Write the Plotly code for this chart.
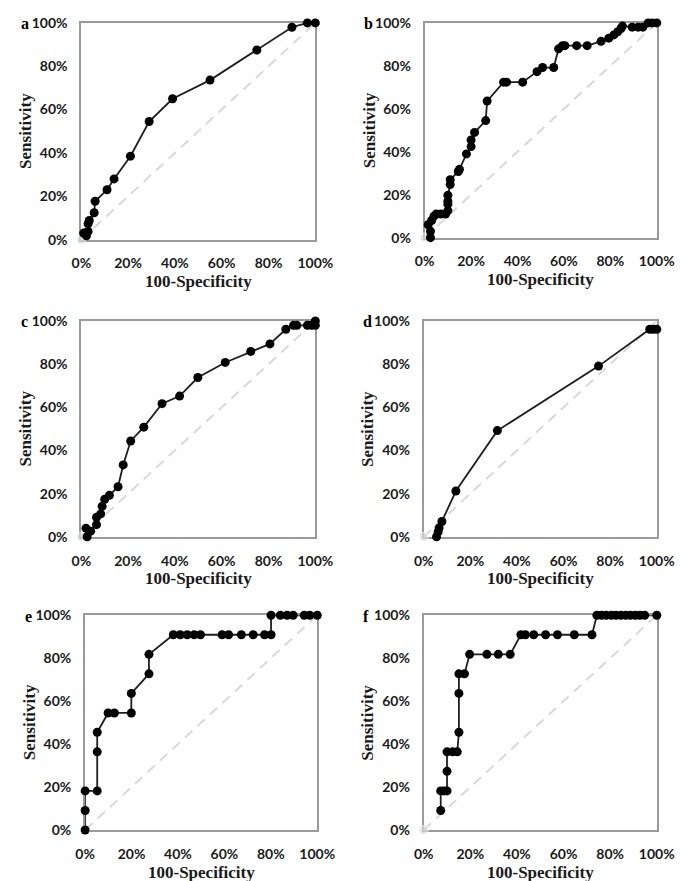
import plotly.graph_objects as go

# ---- data (100-specificity %, sensitivity %) ----
a_x = [1, 2.2, 2.9, 2.9, 3.4, 5.5, 5.9, 11, 14, 21, 29, 39, 55, 75, 90, 96.6, 100]
a_y = [3, 1.8, 3.8, 7.3, 8.8, 12.4, 17.7, 23, 28, 38.5, 54.5, 65, 73.6, 87.5, 98, 100, 100]

b_x = [2.5, 2.5, 1.5, 3, 4, 5, 7, 9, 10, 10, 10, 10, 11, 11, 14.5, 15, 18, 20, 20, 21.5, 26.3, 26.9,
       34, 35.3, 42.2, 48.4, 50.8, 55.6, 57.7, 59.4, 60.4, 65.5, 70, 76, 79.3, 81.5, 83.2, 84.6, 85.2,
       89.4, 92, 94, 96.3, 98, 100]
b_y = [0, 3, 6, 8, 10, 11, 11, 11, 12.6, 15.6, 17, 19.7, 24.7, 27, 30.8, 31.8, 39, 42.4, 45.5, 49, 54.5, 63.6,
       72.4, 72.4, 72.4, 77.3, 79.2, 79.2, 87.9, 89.4, 89.4, 89.4, 89.4, 91.4, 92.9, 94.4, 95.9, 97.4, 98.5,
       98, 98, 98, 100, 100, 100]

c_x = [2, 2.5, 4, 6.5, 6.5, 8.3, 8.9, 10, 12, 15.7, 17.9, 21.1, 26.7, 34.5, 42, 49.8, 61.5, 72.4, 80.6,
       87.4, 90.7, 92.1, 96.6, 98.4, 100, 100]
c_y = [4, 0, 2.6, 5.6, 9, 10.6, 14.1, 17.4, 19.2, 23.2, 33.3, 44.4, 50.8, 61.7, 65.2, 73.8, 80.8, 85.9, 89.4,
       96.2, 98, 98, 98, 98, 100, 98]

d_x = [5.5, 6.2, 6.6, 7.8, 13.8, 31.6, 75, 97, 98.5, 100]
d_y = [0, 2.3, 4.1, 7.1, 21.2, 49.2, 79.1, 96.2, 96.2, 96.2]

e_x = [0, 0, 0, 5.2, 5.2, 5.2, 9.9, 12.6, 19.9, 19.9, 27.5, 27.5, 38, 41, 44, 47, 49.7, 59, 61.8, 67.3,
       72.4, 77.3, 80.1, 80.1, 84.1, 87, 89.6, 94.4, 96.8, 100]
e_y = [0, 9.1, 18.2, 18.2, 36.4, 45.5, 54.5, 54.5, 54.5, 63.6, 72.7, 81.8, 90.9, 90.9, 90.9, 90.9, 90.9,
       90.9, 90.9, 90.9, 90.9, 90.9, 90.9, 100, 100, 100, 100, 100, 100, 100]

f_x = [7.3, 7.3, 8.7, 10, 10, 10, 12.4, 14.4, 15.1, 15.1, 15.1, 17.5, 19.7, 27.1, 32, 37.1, 41.7, 43.6,
       47.2, 52.3, 57.4, 64.6, 72.2, 74.3, 76.3, 78.3, 80.5, 82.5, 84.6, 86.7, 88.7, 90.8, 92.8, 94.8, 100]
f_y = [9.1, 18.2, 18.2, 18.2, 27.3, 36.4, 36.4, 36.4, 45.5, 63.6, 72.7, 72.7, 81.8, 81.8, 81.8, 81.8,
       90.9, 90.9, 90.9, 90.9, 90.9, 90.9, 90.9, 100, 100, 100, 100, 100, 100, 100, 100, 100, 100, 100, 100]

panel_letters = ["a", "b", "c", "d", "e", "f"]
series = [(a_x, a_y), (b_x, b_y), (c_x, c_y), (d_x, d_y), (e_x, e_y), (f_x, f_y)]
tick_vals = [0, 20, 40, 60, 80, 100]
tick_text = ["0%", "20%", "40%", "60%", "80%", "100%"]
x_title = "100-Specificity"
y_title = "Sensitivity"

# ---- layout geometry (pixels) ----
W, H = 685, 881
boxes = [  # left, right, top, bottom
    (66, 310, 6, 227),
    (424, 666, 6, 225),
    (66, 310, 310, 530),
    (423, 666, 310, 530),
    (70, 312, 610, 829),
    (423, 666, 610, 829),
]

fig = go.Figure()
tick_font = dict(family="Lato", size=14, color="#1a1a1a", weight="bold")
title_font = dict(family="Liberation Serif", size=17, color="#1a1a1a")

for i, ((xs, ys), (l, r, t, b), letter) in enumerate(zip(series, boxes, panel_letters)):
    n = "" if i == 0 else str(i + 1)
    xa, ya = "x" + n, "y" + n
    # diagonal reference line
    fig.add_trace(go.Scatter(
        x=[0, 100], y=[0, 100], xaxis=xa, yaxis=ya, mode="lines+markers",
        line=dict(color="#d9d9d9", width=2, dash="10px,7px"),
        marker=dict(size=[9, 0], color="#d9d9d9"),
        cliponaxis=False, showlegend=False, hoverinfo="skip"))
    fig.add_trace(go.Scatter(
        x=xs, y=ys, xaxis=xa, yaxis=ya, mode="lines+markers",
        line=dict(color="#1e1e1e", width=1.8),
        marker=dict(size=9, color="#000000"),
        cliponaxis=False, showlegend=False))
    axis_common = dict(range=[0, 100], tickvals=tick_vals, ticktext=tick_text,
                       showgrid=False, zeroline=False, showline=True, mirror=True,
                       linecolor="#9a9a9a", linewidth=2, ticks="outside",
                       tickcolor="rgba(0,0,0,0)", tickfont=tick_font,
                       layer="below traces", fixedrange=True)
    fig.layout["xaxis" + n] = dict(axis_common, domain=[l / W, r / W], anchor=ya, ticklen=10)
    fig.layout["yaxis" + n] = dict(axis_common, domain=[1 - b / H, 1 - t / H], anchor=xa, ticklen=9)
    # axis titles
    fig.add_annotation(text="<b>%s</b>" % x_title, xref="paper", yref="paper",
                       x=(l + r) / 2 / W, y=1 - (b + 43) / H, showarrow=False,
                       font=title_font, xanchor="center", yanchor="middle")
    fig.add_annotation(text="<b>%s</b>" % y_title, xref="paper", yref="paper",
                       x=(l - 58) / W, y=1 - (t + b) / 2 / H, showarrow=False,
                       font=title_font, textangle=-90, xanchor="center", yanchor="middle")
    # panel letter
    fig.add_annotation(text="<b>%s</b>" % letter, xref="paper", yref="paper",
                       x=(l - 65) / W, y=1 - (t + 1) / H, showarrow=False,
                       font=dict(family="Liberation Serif", size=16, color="#000"),
                       xanchor="left", yanchor="middle")

fig.update_layout(width=W, height=H, margin=dict(l=0, r=0, t=0, b=0),
                  plot_bgcolor="white", paper_bgcolor="white", showlegend=False)
fig.write_html("out.html")
